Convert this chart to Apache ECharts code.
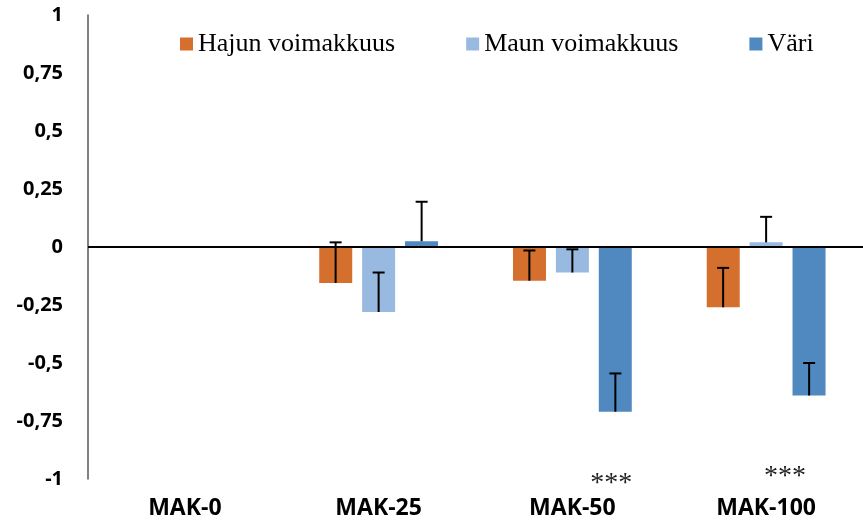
<!DOCTYPE html>
<html>
<head>
<meta charset="utf-8">
<script src="https://cdn.jsdelivr.net/npm/echarts@6/dist/echarts.min.js"></script>
<style>
  html, body { margin: 0; padding: 0; background: #fff; }
  #chart { width: 863px; height: 520px; }
</style>
</head>
<body>
<div id="chart"></div>
<script>
// Aistinarvioinnin muutokset MAK-pitoisuuden mukaan
const categories = ['MAK-0', 'MAK-25', 'MAK-50', 'MAK-100'];
const seriesNames = ['Hajun voimakkuus', 'Maun voimakkuus', 'Väri'];

const hajuValues = [0, -0.155, -0.145, -0.26];
const makuValues = [0, -0.28, -0.11, 0.02];
const variValues = [0, 0.025, -0.71, -0.64];

// Keskivirheet (piirretään arvosta ylöspäin)
const hajuErrors = [0, 0.175, 0.13, 0.17];
const makuErrors = [0, 0.17, 0.10, 0.11];
const variErrors = [0, 0.17, 0.165, 0.14];

// Merkitsevyystähdet
const significance = ['', '', '***', '***'];

const yTicks = { min: -1, max: 1, interval: 0.25 };

const colors = ['#D56F2E', '#99BAE0', '#4F89BF'];
const barWidth = 33;
const barSpacing = 43;

const values = [hajuValues, makuValues, variValues];
const errors = [hajuErrors, makuErrors, variErrors];

const chart = echarts.init(document.getElementById('chart'), null, { renderer: 'canvas' });

function errorSeries(k) {
  const offset = (k - 1) * barSpacing;
  return {
    type: 'custom',
    name: seriesNames[k] + ' err',
    z: 5,
    silent: true,
    encode: { x: 0, y: 1 },
    data: categories.map((c, i) => [i, values[k][i], errors[k][i]]),
    renderItem: function (params, api) {
      const idx = api.value(0);
      const v = api.value(1);
      const e = api.value(2);
      if (!e) return null;
      const base = api.coord([idx, v]);
      const tip = api.coord([idx, v + e]);
      const x = base[0] + offset;
      const st = { stroke: '#000', lineWidth: 2 };
      return {
        type: 'group',
        children: [
          { type: 'line', shape: { x1: x, y1: base[1], x2: x, y2: tip[1] }, style: st },
          { type: 'line', shape: { x1: x - 6, y1: tip[1], x2: x + 6, y2: tip[1] }, style: st }
        ]
      };
    }
  };
}

// Tähtien siirto Väri-pylvään keskeltä
const sigOffsets = [[0, 0], [0, 0], [-4, 5], [-24, -2]];
const sigPoints = [];
significance.forEach((s, i) => {
  if (s) {
    sigPoints.push({
      coord: [categories[i], yTicks.min],
      label: { show: true, formatter: s, offset: sigOffsets[i] }
    });
  }
});

const barSeries = seriesNames.map((name, k) => {
  const s = {
    type: 'bar',
    name: name,
    data: values[k],
    barWidth: barWidth,
    barGap: '30%',
    itemStyle: { color: colors[k] },
    z: 2
  };
  if (k === 2) {
    s.markPoint = {
      symbol: 'rect',
      symbolSize: 1,
      itemStyle: { color: 'rgba(0,0,0,0)' },
      label: {
        position: 'inside',
        color: '#222',
        fontFamily: 'Liberation Serif',
        fontSize: 28
      },
      data: sigPoints
    };
  }
  return s;
});

// Nollaviiva
barSeries[0].markLine = {
  silent: true,
  symbol: 'none',
  label: { show: false },
  lineStyle: { color: '#000', width: 2, type: 'solid' },
  z: 4,
  data: [{ yAxis: 0 }]
};

chart.setOption({
  animation: false,
  backgroundColor: '#fff',
  grid: { left: 88, right: 0, top: 15, bottom: 40 },
  legend: {
    data: seriesNames,
    left: 175,
    top: 26,
    icon: 'rect',
    itemWidth: 13,
    itemHeight: 13,
    itemGap: 71,
    textStyle: { fontFamily: 'Liberation Serif', fontSize: 26, color: '#000' }
  },
  xAxis: {
    type: 'category',
    data: categories,
    axisLine: { show: false, onZero: false },
    axisTick: { show: false },
    axisLabel: {
      margin: 18,
      color: '#000',
      fontFamily: 'Open Sans',
      fontWeight: 'bold',
      fontSize: 23
    }
  },
  yAxis: {
    type: 'value',
    min: yTicks.min,
    max: yTicks.max,
    interval: yTicks.interval,
    splitLine: { show: false },
    axisTick: { show: false },
    axisLine: { show: true, lineStyle: { color: '#595959', width: 1.5 } },
    axisLabel: {
      margin: 25,
      color: '#000',
      fontFamily: 'Open Sans',
      fontWeight: 'bold',
      fontSize: 20,
      formatter: v => String(v).replace('.', ',')
    }
  },
  series: barSeries.concat([0, 1, 2].map(errorSeries))
});
</script>
</body>
</html>
